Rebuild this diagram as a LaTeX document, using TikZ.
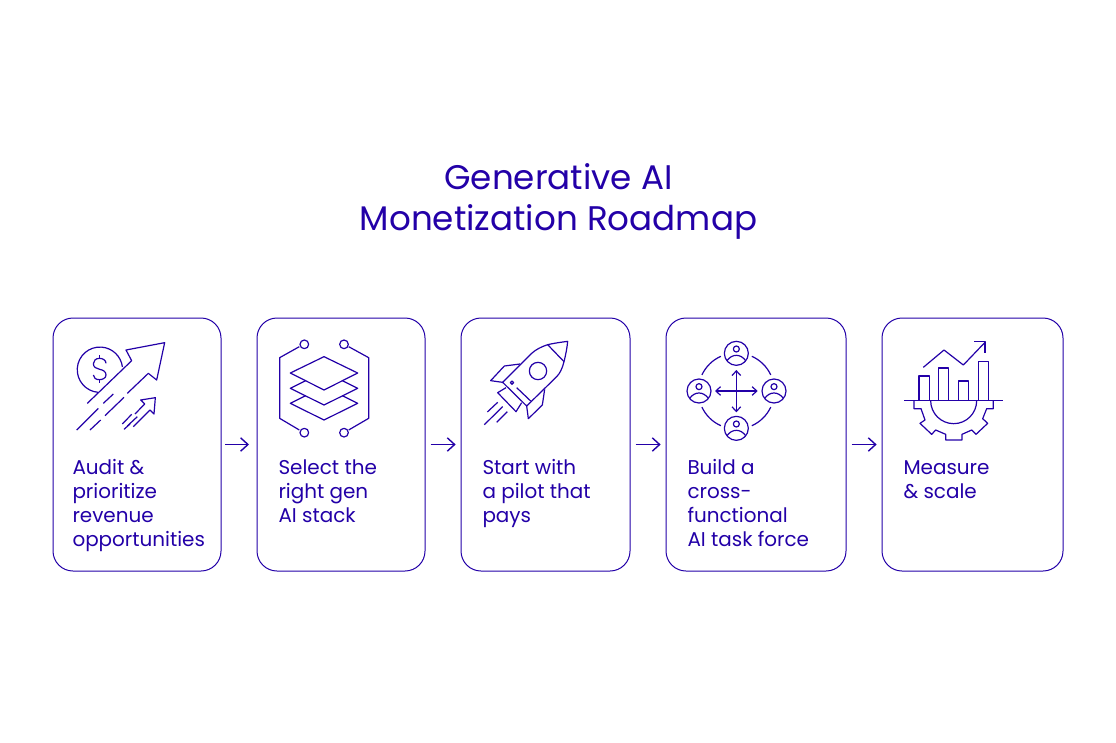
\documentclass[tikz,border=0pt]{standalone}
\usepackage{fontspec}
\setmainfont{Poppins}
\usetikzlibrary{arrows.meta}
\definecolor{ink}{HTML}{2300A8}
\tikzstyle{base}=[x=0.75pt, y=-0.75pt, inner sep=0pt, outer sep=0pt, ink]
\tikzstyle{stepbox}=[draw=ink, line width=0.75pt, rounded corners=15pt, minimum height=189.75pt, anchor=north west]
\tikzstyle{steptext}=[anchor=north west, align=left, font=\fontsize{14.95}{18}\selectfont, text=ink]
\tikzstyle{icon}=[x=0.25pt, y=-0.25pt, line width=0.9pt, draw=ink, line join=round]
\tikzstyle{flow}=[draw=ink, line width=1.05pt, -{Straight Barb[length=5.5pt, width=10pt]}, shorten <=4.2pt, shorten >=4pt]
\tikzstyle{twoway}=[{Straight Barb[length=3.5pt, width=6.5pt]}-{Straight Barb[length=3.5pt, width=6.5pt]}]

\begin{document}
\begin{tikzpicture}[base]
    \path [use as bounding box, fill=white] (0,0) rectangle (1116,742);
    % heading
    \node [align=center, text=ink, font=\fontsize{25.6}{30.7}\selectfont] (title) at (558.5,201.5) {Generative AI\\Monetization Roadmap};
    % boxes
    \node [stepbox, minimum width=126pt] (audit) at (53,318) {};
    \node [stepbox, minimum width=126pt] (stack) at (257,318) {};
    \node [stepbox, minimum width=126.75pt] (pilot) at (461,318) {};
    \node [stepbox, minimum width=135pt] (force) at (666,318) {};
    \node [stepbox, minimum width=135.75pt] (scale) at (882,318) {};
    \node [steptext] (audittext) at (72.5,459) {Audit \&\\prioritize\\revenue\\opportunities};
    \node [steptext] (stacktext) at (278.5,460) {Select the\\right gen\\AI stack};
    \node [steptext] (pilottext) at (482.5,459) {Start with\\a pilot that\\pays};
    \node [steptext] (forcetext) at (687.5,459) {Build a\\cross-\\functional\\AI task force};
    \node [steptext] (scaletext) at (903.5,461) {Measure\\\& scale};
    % arrows
    \draw [flow, shorten <=3pt, shorten >=6pt] (audit) -- (stack);
    \foreach \a/\b in {stack/pilot, pilot/force, force/scale}
        \draw [flow] (\a) -- (\b);
    % growth
    \begin{scope}[shift={(50,320)}, icon]
        \draw (145,217) arc[start angle=94, end angle=353, radius=68];
        \draw (112,250) -- (245,122) -- (228,90) -- (344,68) -- (320,180) -- (295,160) -- (232,220);
        \draw (190,222) -- (160,250);
        \draw (222,232) -- (165,287);
        \draw (145,265) -- (80,330);
        \draw (152,300) -- (120,330);
        \draw (250,320) -- (300,270) -- (312,282) -- (316,233) -- (272,240) -- (284,252) -- (255,282);
        \draw (262,290) -- (232,318);
        \draw (245,283) -- (217,312);
        \draw (240,312) -- (222,328);
        \draw (168,130) .. controls (168,120) and (158,115) .. (148,115) .. controls (138,115) and (130,122) .. (130,131) .. controls (130,142) and (140,146) .. (149,148) .. controls (160,150) and (168,155) .. (168,165) .. controls (168,174) and (158,179) .. (148,179) .. controls (138,179) and (130,174) .. (130,165);
        \draw (148,105) -- (148,115);
        \draw (148,179) -- (148,189);
    \end{scope}
    % layers
    \begin{scope}[shift={(255,320)}, icon]
        \foreach \cx/\cy in {148/73, 267/73, 148/338, 267/338}
            \draw (\cx,\cy) circle [radius=13];
        \draw (133,80) -- (74,113) -- (74,295) -- (133,330);
        \draw (281,80) -- (341,113) -- (341,295) -- (281,330);
        \draw (207,110) -- (308,159) -- (207,210) -- (106,159) -- cycle;
        \draw (152,182) -- (106,205) -- (207,255) -- (308,205) -- (262,182);
        \draw (152,227) -- (106,250) -- (207,300) -- (308,250) -- (262,227);
    \end{scope}
    % rocket
    \begin{scope}[shift={(460,320)}, icon]
        \draw (323,64) .. controls (300,67) and (280,70) .. (263,74) .. controls (245,80) and (228,88) .. (215,100) -- (128,187) -- (200,258) -- (290,170) .. controls (300,160) and (307,145) .. (312,125) .. controls (317,105) and (321,85) .. (323,64) -- cycle;
        \draw (263,74) -- (312,125);
        \draw (234,153) circle [radius=26];
        \draw (156,188) circle [radius=5];
        \draw (170,203) -- (212,243);
        \draw (180,132) -- (133,138) -- (92,182) -- (128,187);
        \draw (254,208) -- (247,255) -- (205,296) -- (200,258);
        \draw (138,203) -- (113,218) -- (168,275) -- (185,248);
        \draw (113,247) -- (82,276);
        \draw (128,260) -- (73,314);
        \draw (142,275) -- (110,307);
    \end{scope}
    % team
    \begin{scope}[shift={(665,320)}, icon]
        \foreach \cx/\cy in {214/100, 102/213, 327/213, 214/325} {
            \draw (\cx,\cy) circle [radius=36];
            \draw (\cx,\cy-13) circle [radius=9];
            \draw (\cx-28,\cy+22) .. controls (\cx-20,\cy+11) and (\cx-10,\cy+6) .. (\cx,\cy+6) .. controls (\cx+10,\cy+6) and (\cx+20,\cy+11) .. (\cx+28,\cy+22);
        }
        \foreach \from/\to in {25/66, 114/155, 205/246, 294/335}
            \draw (214,213) ++(\from:114) arc[start angle=\from, end angle=\to, radius=114];
        \draw [twoway] (150,213) -- (278,213);
        \draw [twoway] (214,150) -- (214,277);
    \end{scope}
    % chart
    \begin{scope}[shift={(880,320)}, icon]
        \draw (72,242) -- (370,242);
        \draw (117,242) -- (117,168) -- (148,168) -- (148,242);
        \draw (176,242) -- (176,144) -- (206,144) -- (206,242);
        \draw (236,242) -- (236,183) -- (266,183) -- (266,242);
        \draw (295,242) -- (295,124) -- (325,124) -- (325,242);
        \draw (152,242) arc[start angle=180, end angle=0, radius=69];
        \draw (102,242) -- (102,266) -- (123,266) -- (135,300) -- (120,310) -- (155,343) -- (167,330) -- (197,343) -- (197,360) -- (246,360) -- (246,343) -- (275,330) -- (288,343) -- (323,310) -- (308,296) -- (320,266) -- (340,266) -- (340,242);
        \draw (130,142) -- (192,90) -- (250,135) -- (315,67);
        \draw (283,65) -- (315,65) -- (315,98);
    \end{scope}
\end{tikzpicture}
\end{document}
